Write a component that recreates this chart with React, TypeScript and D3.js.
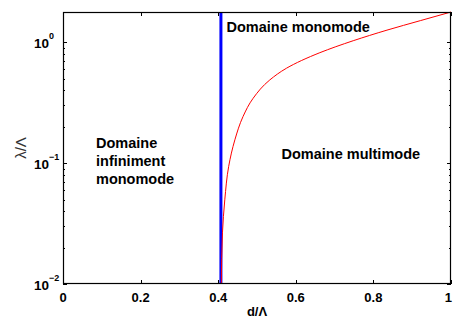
import { useEffect, useRef } from 'react';
import * as d3 from 'd3';

// values
const cutoffX = 0.407;
const curveX = [0.408, 0.411, 0.417, 0.427, 0.443, 0.464, 0.49, 0.533, 0.576, 0.662, 0.748, 0.835, 0.921, 1.0];
const curveY = [0.01, 0.0265, 0.0497, 0.094, 0.156, 0.243, 0.344, 0.488, 0.61, 0.82, 1.03, 1.26, 1.51, 1.78];
const xTicks = [0, 0.2, 0.4, 0.6, 0.8, 1];
const xTickLabels = ['0', '0.2', '0.4', '0.6', '0.8', '1'];
const yMajor = [0.01, 0.1, 1];
const yExponents = ['\u22122', '\u22121', '0'];
const yDomain = [0.01, 1.78];

export default function App() {
  const svgRef = useRef<SVGSVGElement>(null);
  const width = 453;
  const height = 318;

  useEffect(() => {
    if (!svgRef.current) return;
    const svg = d3.select(svgRef.current);
    svg.selectAll('*').remove();

    const margin = { top: 12, right: 2, bottom: 34, left: 63 };
    const x0 = margin.left;
    const x1 = width - margin.right;
    const y0 = height - margin.bottom;
    const y1 = margin.top;

    const xScale = d3.scaleLinear().domain([0, 1]).range([x0, x1]);
    const yScale = d3.scaleLog().domain(yDomain).range([y0, y1]);

    const font = 'Liberation Sans, Arial, Helvetica, sans-serif';

    // minor log ticks
    const minor: number[] = [];
    [0.01, 0.1, 1].forEach((dec) => {
      for (let k = 2; k <= 9; k++) {
        const v = dec * k;
        if (v <= yDomain[1]) minor.push(v);
      }
    });

    const ticks = svg.append('g').attr('stroke', '#000').attr('stroke-width', 1);

    xTicks.forEach((t) => {
      const px = Math.round(xScale(t)) + 0.5;
      ticks.append('line').attr('x1', px).attr('x2', px).attr('y1', y0).attr('y2', y0 - 4);
      ticks.append('line').attr('x1', px).attr('x2', px).attr('y1', y1).attr('y2', y1 + 4);
    });

    yMajor.forEach((t) => {
      const py = Math.round(yScale(t)) + 0.5;
      ticks.append('line').attr('x1', x0).attr('x2', x0 + 4).attr('y1', py).attr('y2', py);
      ticks.append('line').attr('x1', x1).attr('x2', x1 - 4).attr('y1', py).attr('y2', py);
    });

    minor.forEach((t) => {
      const py = Math.round(yScale(t)) + 0.5;
      ticks.append('line').attr('x1', x0).attr('x2', x0 + 2).attr('y1', py).attr('y2', py);
      ticks.append('line').attr('x1', x1).attr('x2', x1 - 2).attr('y1', py).attr('y2', py);
    });

    // blue cutoff line
    svg
      .append('line')
      .attr('x1', xScale(cutoffX))
      .attr('x2', xScale(cutoffX))
      .attr('y1', yScale(yDomain[0]))
      .attr('y2', yScale(yDomain[1]))
      .attr('stroke', '#0000ff')
      .attr('stroke-width', 3);

    // red curve (monotone in y gives a smooth near-vertical foot)
    const pts = curveX.map((v, i) => [v, curveY[i]] as [number, number]);
    const line = d3
      .line<[number, number]>()
      .x((d) => xScale(d[0]))
      .y((d) => yScale(d[1]))
      .curve(d3.curveMonotoneY);

    svg
      .append('path')
      .datum(pts)
      .attr('fill', 'none')
      .attr('stroke', '#ff0000')
      .attr('stroke-width', 1)
      .attr('d', line);

    // frame
    svg
      .append('rect')
      .attr('x', x0 + 0.5)
      .attr('y', y1 + 0.5)
      .attr('width', x1 - x0 - 1)
      .attr('height', y0 - y1 - 1)
      .attr('fill', 'none')
      .attr('stroke', '#000')
      .attr('stroke-width', 1.2);

    // x tick labels
    xTicks.forEach((t, i) => {
      const last = i === xTicks.length - 1;
      svg
        .append('text')
        .attr('x', last ? xScale(t) + 1 : xScale(t))
        .attr('y', 302)
        .attr('text-anchor', last ? 'end' : 'middle')
        .style('font-family', font)
        .style('font-weight', 'bold')
        .style('font-size', '13px')
        .text(xTickLabels[i]);
    });

    // y tick labels 10^n
    yMajor.forEach((t, i) => {
      const py = yScale(t);
      const txt = svg
        .append('text')
        .attr('x', 34)
        .attr('y', py + 6)
        .style('font-family', font)
        .style('font-weight', 'bold')
        .style('font-size', '13.5px');
      txt.append('tspan').text('10');
      txt
        .append('tspan')
        .attr('dy', -9)
        .style('font-size', '9px')
        .text(yExponents[i]);
    });

    // axis titles
    svg
      .append('text')
      .attr('x', xScale(0.5))
      .attr('y', 316)
      .attr('text-anchor', 'middle')
      .style('font-family', font)
      .style('font-weight', 'bold')
      .style('font-size', '13px')
      .text('d/\u039B');

    svg
      .append('text')
      .attr('transform', `translate(26, ${(y0 + y1) / 2}) rotate(-90)`)
      .attr('text-anchor', 'middle')
      .style('font-family', font)
      .style('font-size', '15px')
      .style('fill', '#333')
      .text('\u03BB/\u039B');

    // region labels
    const label = (tx: number, ty: number, s: string) =>
      svg
        .append('text')
        .attr('x', tx)
        .attr('y', ty)
        .style('font-family', font)
        .style('font-weight', 'bold')
        .style('font-size', '14.5px')
        .text(s);

    label(226.5, 32, 'Domaine monomode');
    label(281.5, 158.5, 'Domaine multimode');
    label(96, 148, 'Domaine');
    label(96, 166, 'infiniment');
    label(96, 184, 'monomode');
  }, []);

  return (
    <svg
      ref={svgRef}
      width={width}
      height={height}
      style={{ position: 'absolute', left: 0, top: 0, background: '#fff' }}
    />
  );
}
